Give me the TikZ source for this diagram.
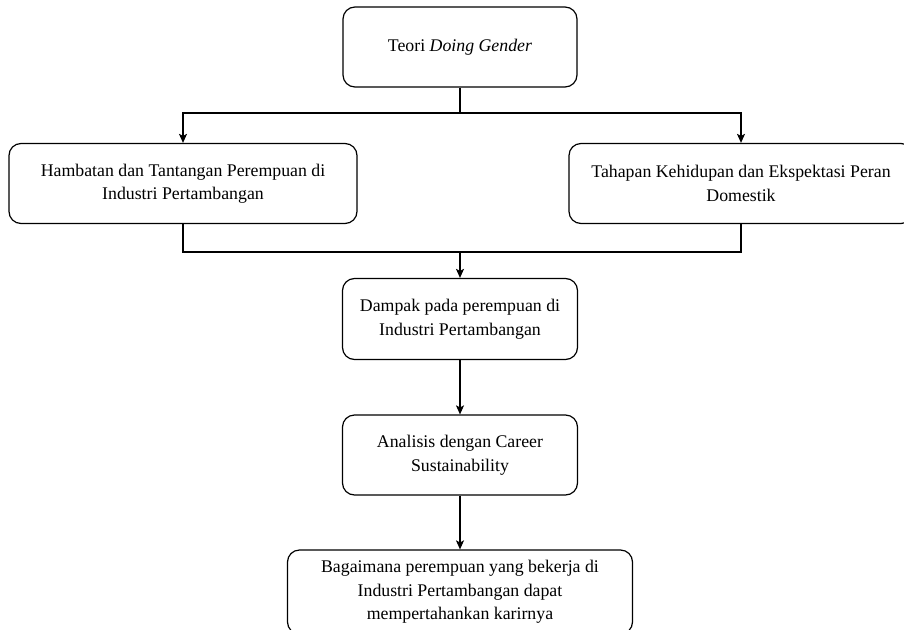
\documentclass[tikz,border=0pt]{standalone}
\usepackage{fontspec}
\setmainfont{Liberation Serif}
\usetikzlibrary{arrows.meta}
\begin{document}
\begin{tikzpicture}[x=1pt,y=-1pt,
  box/.style={draw=black,line width=1.2pt,rounded corners=12pt,align=center,
    inner sep=0pt,font=\fontsize{17.8}{23.5}\selectfont},
  arr/.style={draw=black,line width=1.2pt,-{Stealth[length=9pt,width=8pt,inset=2pt]}},
  ln/.style={draw=black,line width=1.2pt}]
\clip (0,0) rectangle (904,629);
\fill[white] (0,0) rectangle (904,629);
\node[box,minimum width=234pt,minimum height=80pt] (top) at (460,47) {Teori \textit{Doing Gender}};
\node[box,minimum width=348pt,minimum height=80pt] (left) at (183,183.5) {Hambatan dan Tantangan Perempuan di\\Industri Pertambangan};
\node[box,minimum width=344pt,minimum height=80pt] (right) at (741,183.5) {Tahapan Kehidupan dan Ekspektasi Peran\\Domestik};
\node[box,minimum width=235pt,minimum height=81pt] (dampak) at (460,319) {Dampak pada perempuan di\\Industri Pertambangan};
\node[box,minimum width=235pt,minimum height=80pt] (analisis) at (460,455) {Analisis dengan Career\\Sustainability};
\node[box,minimum width=345pt,minimum height=84pt] (bagai) at (460,592) {Bagaimana perempuan yang bekerja di\\Industri Pertambangan dapat\\mempertahankan karirnya};
\coordinate (j1) at (460,113);
\coordinate (j2) at (460,252);
\draw[arr] (top.south) -- (j1) -| (left.north);
\draw[arr] (j1) -| (right.north);
\draw[arr] (left.south) |- (j2) -- (dampak.north);
\draw[ln] (right.south) |- (j2);
\draw[arr] (dampak.south) -- (analisis.north);
\draw[arr] (analisis.south) -- (bagai.north);
\end{tikzpicture}
\end{document}
